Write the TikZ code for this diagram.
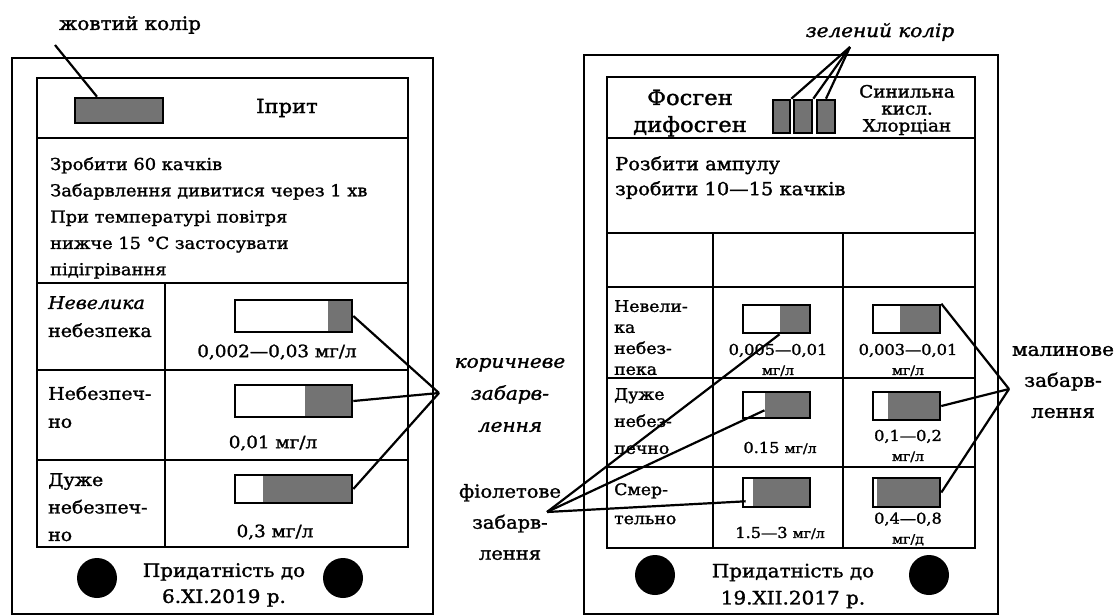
\documentclass[tikz,border=0pt]{standalone}
\usepackage{fontspec}
\setmainfont{DejaVu Serif}[FakeStretch=1.08,FakeBold=1.5]
\newcommand{\fs}[2]{\fontsize{#1}{#2}\selectfont}

\begin{document}
\begin{tikzpicture}[x=1pt,y=-1pt,
        frame/.style={line width=2.3pt},
        rule/.style={line width=2.1pt},
        lead/.style={line width=2.2pt},
        tube/.style={draw,line width=2.6pt,inner sep=0pt,minimum width=#1},
        tube/.default=67pt,
        stain/.style={path picture={\fill[black!55]
          ([xshift=-#1]path picture bounding box.north east) rectangle
          (path picture bounding box.south east);}},
        hole/.style={circle,fill=black,inner sep=0pt,minimum size=40pt},
        txt/.style={inner sep=0pt,align=left,font=\fs{16}{27}},
        ctxt/.style={inner sep=0pt,align=center,font=\fs{17}{26}},
        small/.style={inner sep=0pt,align=center,font=\fs{15}{20}}]
        \useasboundingbox (0,0) rectangle (1117,616);

        % Left card: mustard gas indicator tube.
        \draw[frame] (12,58) rectangle (433,614);
        \draw[rule] (37,78) rectangle (408,547);
        \foreach \y in {138,283,370,460}
          \draw[rule] (37,\y) -- (408,\y);
        \draw[rule] (165,283) -- (165,547);

        \node[tube=88pt,minimum height=25pt,stain=88pt]
          (yellow) at (119,110.5) {};
        \node[ctxt,font=\fs{19.5}{20}] (iprit) at (287,108) {Іприт};
        \node[ctxt,font=\fs{18.5}{20}] (yellowlbl) at (130,25) {жовтий колір};
        \coordinate (yellowtip) at (55,45);
        \draw[lead] (yellowtip) -- ([xshift=-22pt]yellow.north);

        \node[txt,anchor=north west,font=\fs{16.5}{26.3}] (steps) at (50,157)
          {Зробити 60 качків\\Забарвлення дивитися через 1 хв\\
           При температурі повітря\\нижче 15 °C застосувати\\підігрівання};

        \node[txt,anchor=north west,font=\fs{17.5}{28}] (lowrisk) at (48,296)
          {\textit{Невелика}\\небезпека};
        \node[txt,anchor=north west,font=\fs{17.5}{28}] (risk) at (48,386)
          {Небезпеч-\\но};
        \node[txt,anchor=north west,font=\fs{17.5}{27.5}] (highrisk) at (48,473)
          {Дуже\\небезпеч-\\но};

        \node[tube=117pt,minimum height=32pt,stain=24pt] (t1) at (293.5,316) {};
        \node[tube=117pt,minimum height=32pt,stain=47pt] (t2) at (293.5,401) {};
        \node[tube=117pt,minimum height=28pt,stain=89pt] (t3) at (293.5,489) {};
        \node[ctxt] (c1) at (277,352) {0,002—0,03 мг/л};
        \node[ctxt] (c2) at (273,443) {0,01 мг/л};
        \node[ctxt] (c3) at (275,532) {0,3 мг/л};

        \node[hole] (h1) at (97,578) {};
        \node[hole] (h2) at (343,578) {};
        \node[ctxt,font=\fs{18.5}{26}] (date1) at (224,585)
          {Придатність до\\6.XI.2019 р.};

        % Brown colouring of the mustard gas tube.
        \node[ctxt,font=\itshape\fs{18.5}{32}] (brown) at (510,395)
          {коричневе\\забарв-\\лення};
        \coordinate (browntip) at (439,393);
        \draw[lead] (t1.east) -- (browntip);
        \draw[lead] (t2.east) -- (browntip);
        \draw[lead] (t3.east) -- (browntip);

        % Right card: phosgene and hydrogen cyanide tubes.
        \draw[frame] (584,55) rectangle (998,614);
        \draw[rule] (607,77) rectangle (975,548);
        \foreach \y in {138,233,287,378,467}
          \draw[rule] (607,\y) -- (975,\y);
        \draw[rule] (713,233) -- (713,548);
        \draw[rule] (843,233) -- (843,548);

        \node[ctxt,font=\fs{21}{27}] (phosgene) at (690,113)
          {Фосген\\дифосген};
        \node[ctxt,font=\fs{17}{17}] (cyanide) at (907,110)
          {Синильна\\кисл.\\Хлорціан};
        \node[tube=17pt,minimum height=33pt,stain=17pt] (g1) at (781.5,116.5) {};
        \node[tube=18pt,minimum height=33pt,stain=18pt] (g2) at (803,116.5) {};
        \node[tube=18pt,minimum height=33pt,stain=18pt] (g3) at (826,116.5) {};
        \node[ctxt,font=\itshape\fs{18.5}{20}] (greenlbl) at (880,32)
          {зелений колір};
        \coordinate (greentip) at (850,47);
        \draw[lead] (greentip) -- (g1.north east);
        \draw[lead] (greentip) -- (g2.north east);
        \draw[lead] (greentip) -- (g3.north);

        \node[txt,anchor=north west,font=\fs{18}{25}] (ampoule) at (615,156)
          {Розбити ампулу\\зробити 10—15 качків};

        \node[txt,anchor=north west,font=\fs{16}{21}] (lowrisk2) at (614,300)
          {Невели-\\ка\\небез-\\пека};
        \node[txt,anchor=north west,font=\fs{16}{27}] (highrisk2) at (614,388)
          {Дуже\\небез-\\печно};
        \node[txt,anchor=north west,font=\fs{16}{29}] (lethal) at (614,483)
          {Смер-\\тельно};

        \node[tube,minimum height=28pt,stain=30pt] (u1) at (776.5,319) {};
        \node[tube,minimum height=26pt,stain=45pt] (u2) at (776.5,405) {};
        \node[tube,minimum height=29pt,stain=57pt] (u3) at (776.5,492.5) {};
        \node[tube,minimum height=28pt,stain=40pt] (v1) at (906.5,319) {};
        \node[tube,minimum height=28pt,stain=52pt] (v2) at (906.5,406) {};
        \node[tube,minimum height=29pt,stain=63pt] (v3) at (906.5,492.5) {};

        \node[small] (d1) at (778,360) {0,005—0,01\\{\fs{13}{14}мг/л}};
        \node[small] (e1) at (908,360) {0,003—0,01\\{\fs{13}{14}мг/л}};
        \node[small] (d2) at (780,448) {0.15 {\fs{13}{14}мг/л}};
        \node[small] (e2) at (908,446) {0,1—0,2\\{\fs{13}{14}мг/л}};
        \node[small] (d3) at (780,533) {1.5—3 {\fs{13}{14}мг/л}};
        \node[small] (e3) at (908,529) {0,4—0,8\\{\fs{13}{14}мг/д}};

        \node[hole] (h3) at (655,575) {};
        \node[hole] (h4) at (929,575) {};
        \node[ctxt,font=\fs{18.5}{27}] (date2) at (793,586)
          {Придатність до\\19.XII.2017 р.};

        % Violet and crimson colourings.
        \node[ctxt,font=\fs{18}{31}] (violet) at (510,522)
          {фіолетове\\забарв-\\лення};
        \coordinate (violettip) at (547,512);
        \draw[lead] (violettip) -- ([xshift=3pt]u1.south);
        \draw[lead] (violettip) -- ([xshift=-12pt,yshift=9pt]u2.south);
        \draw[lead] (violettip) -- ([xshift=4pt,yshift=7pt]u3.south west);

        \node[ctxt,font=\fs{18.5}{31}] (crimson) at (1063,382)
          {малинове\\забарв-\\лення};
        \coordinate (crimsontip) at (1009,389);
        \draw[lead] (v1.north east) -- (crimsontip);
        \draw[lead] (v2.east) -- (crimsontip);
        \draw[lead] (v3.east) -- (crimsontip);
      \end{tikzpicture}
\end{document}
